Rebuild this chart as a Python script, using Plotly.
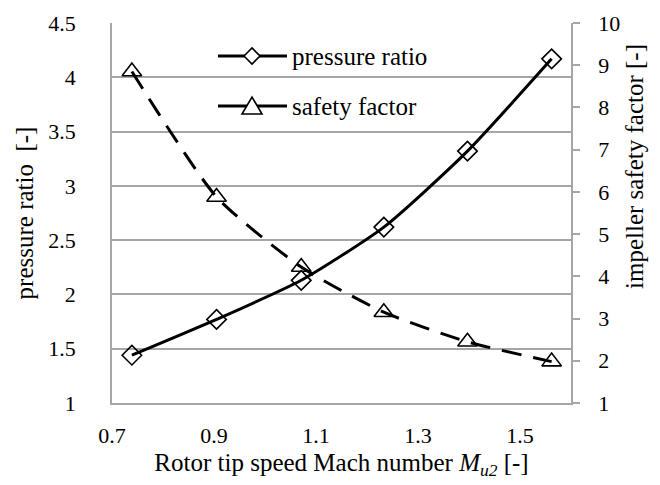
import plotly.graph_objects as go

# Rotor tip speed Mach number and the two quantities plotted against it
mach = [0.739, 0.905, 1.071, 1.233, 1.397, 1.562]
pressure_ratio = [1.44, 1.77, 2.13, 2.62, 3.32, 4.17]
safety_factor = [8.85, 5.88, 4.22, 3.15, 2.45, 1.98]

left_ticks = [1, 1.5, 2, 2.5, 3, 3.5, 4, 4.5]
right_ticks = list(range(1, 11))
x_ticks = [0.7, 0.9, 1.1, 1.3, 1.5]

FONT = "'Liberation Serif', 'Times New Roman', serif"
GRID = "#a6a6a6"
TICK_SIZE = 22
TITLE_SIZE = 25

fig = go.Figure()

fig.add_trace(go.Scatter(
    x=mach, y=pressure_ratio, name="pressure ratio",
    mode="lines+markers", line=dict(color="black", width=3, shape="spline", smoothing=0.6),
    marker=dict(symbol="diamond-open", size=15, color="black", line=dict(width=1.6)),
    yaxis="y", showlegend=False,
))
fig.add_trace(go.Scatter(
    x=mach, y=safety_factor, name="safety factor",
    mode="lines+markers", line=dict(color="black", width=3, dash="20px,12px", shape="spline", smoothing=0.6),
    marker=dict(symbol="triangle-up-open", size=17, color="black", line=dict(width=1.6)),
    yaxis="y2", showlegend=False,
))

# hand-drawn legend: solid line with a centred marker glyph, then the label
# (glyph paths are in pixels, y pointing up)
legend_rows = [("pressure ratio", 56, "M -8 0 L 0 8 L 8 0 L 0 -8 Z"),
               ("safety factor", 106, "M -10 -8 L 0 9 L 10 -8 Z")]
PX0, PY0, PW, PH = 112, 403, 459, 380
for label, ypx, glyph in legend_rows:
    yp = (PY0 - ypx) / PH
    fig.add_shape(type="line", xref="paper", yref="paper",
                  x0=(218 - PX0) / PW, x1=(287 - PX0) / PW, y0=yp, y1=yp,
                  line=dict(color="black", width=3))
    fig.add_shape(type="path", xref="paper", yref="paper",
                  xsizemode="pixel", ysizemode="pixel",
                  xanchor=(252 - PX0) / PW, yanchor=yp,
                  path=glyph, fillcolor="white",
                  line=dict(color="black", width=1.6))
    fig.add_annotation(xref="paper", yref="paper",
                       x=(290 - PX0) / PW, y=yp,
                       xanchor="left", yanchor="middle", showarrow=False,
                       text=label, font=dict(family=FONT, size=TITLE_SIZE, color="black"))

# right-hand axis title sits above the axis midpoint
fig.add_annotation(xref="paper", yref="paper",
                   x=(635 - PX0) / PW, y=(PY0 - 167) / PH,
                   xanchor="center", yanchor="middle", showarrow=False, textangle=-90,
                   text="impeller safety factor [-]",
                   font=dict(family=FONT, size=TITLE_SIZE, color="black"))

fig.update_layout(
    width=660, height=485,
    margin=dict(l=112, r=89, t=23, b=82),
    paper_bgcolor="white", plot_bgcolor="white",
    font=dict(family=FONT, size=TICK_SIZE, color="black"),
    xaxis=dict(
        range=[0.7, 1.6], tickvals=x_ticks, ticktext=[f"{v:g}" for v in x_ticks],
        showgrid=False, zeroline=False, showline=True, linecolor=GRID, linewidth=1.5,
        ticks="", ticklabelstandoff=12,
        tickfont=dict(family=FONT, size=TICK_SIZE),
        title=dict(text="Rotor tip speed Mach number <i>M</i><sub><i>u2</i></sub> [-]",
                   font=dict(family=FONT, size=TITLE_SIZE), standoff=6),
    ),
    yaxis=dict(
        range=[1, 4.5], tickvals=left_ticks, ticktext=[f"{v:g}" for v in left_ticks],
        showgrid=True, gridcolor=GRID, gridwidth=1.5,
        zeroline=False, showline=True, linecolor=GRID, linewidth=1.5,
        ticks="", ticklabelstandoff=30,
        tickfont=dict(family=FONT, size=TICK_SIZE),
        title=dict(text="pressure ratio  [-]", font=dict(family=FONT, size=TITLE_SIZE), standoff=8),
    ),
    yaxis2=dict(
        range=[1, 10], tickvals=right_ticks, overlaying="y", side="right",
        showgrid=False, zeroline=False, showline=True, linecolor=GRID, linewidth=1.5,
        ticks="outside", ticklen=7, tickcolor=GRID, tickwidth=1.5, ticklabelstandoff=14,
        tickfont=dict(family=FONT, size=TICK_SIZE),
    ),
)

fig.write_html("out.html")
